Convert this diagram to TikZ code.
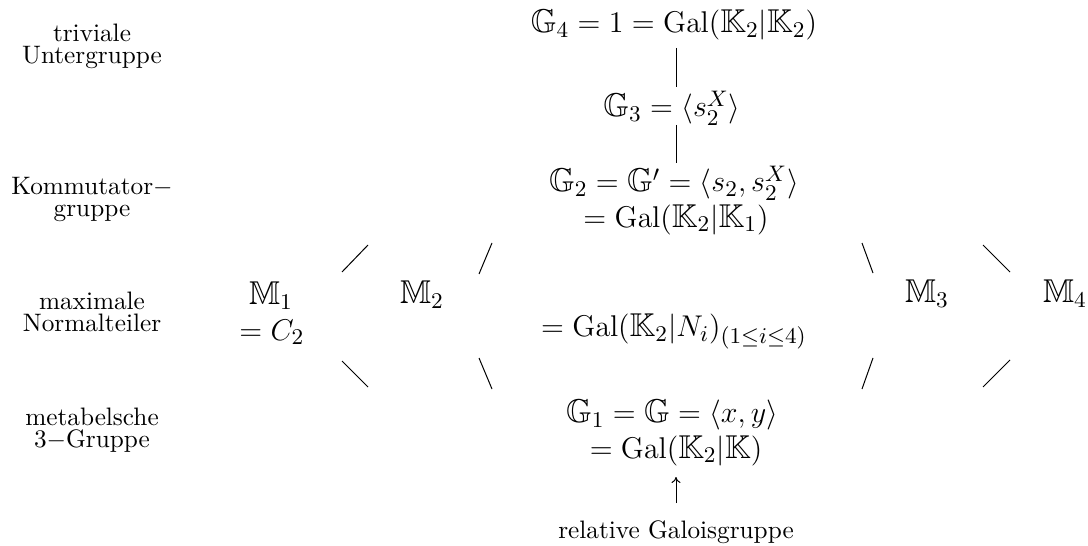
\documentclass[tikz,border=0pt]{standalone}
\usepackage{amssymb}
\usetikzlibrary{arrows.meta}
\begin{document}
\begin{tikzpicture}[x=0.4pt,y=-0.4pt,
  lab/.style={align=center,inner sep=0pt,font=\fontsize{10.1}{8.8}\selectfont},
  mth/.style={anchor=base,inner sep=0pt,font=\fontsize{13.2}{16}\selectfont},
  conn/.style={line width=0.4pt}]
\useasboundingbox (0,0) rectangle (1088,546);
% side labels
\node[lab] (l1) at (92,46.5) {triviale\\Untergruppe};
\node[lab] (l2) at (92,199.5) {Kommutator$-$\\gruppe};
\node[lab] (l3) at (92,311.5) {maximale\\Normalteiler};
\node[lab] (l4) at (92,430) {metabelsche\\3$-$Gruppe};
% central column
\node[mth] (g4) at (674,33) {$\mathbb{G}_4 = 1 = \mathrm{Gal}(\mathbb{K}_2|\mathbb{K}_2)$};
\node[mth] (g3) at (672,117) {$\mathbb{G}_3 = \langle s_2^X\rangle$};
\node[mth] (g2) at (674,192) {$\mathbb{G}_2 = \mathbb{G}' = \langle s_2, s_2^X\rangle$};
\node[mth] (g2b) at (676,227) {$= \mathrm{Gal}(\mathbb{K}_2|\mathbb{K}_1)$};
\node[mth] (gn) at (674,337) {$= \mathrm{Gal}(\mathbb{K}_2|N_i)_{(1\le i\le 4)}$};
\node[mth] (g1) at (672,423) {$\mathbb{G}_1 = \mathbb{G} = \langle x, y\rangle$};
\node[mth] (g1b) at (676,458) {$= \mathrm{Gal}(\mathbb{K}_2|\mathbb{K})$};
\node[lab,anchor=base] (rel) at (676,538) {relative Galoisgruppe};
% maximal subgroups
\node[mth] (m1) at (271,305) {$\mathbb{M}_1$};
\node[mth] (c2) at (272,340) {$= C_2$};
\node[mth] (m2) at (422,304) {$\mathbb{M}_2$};
\node[mth] (m3) at (927,303) {$\mathbb{M}_3$};
\node[mth] (m4) at (1065,303) {$\mathbb{M}_4$};
% connector end points
\coordinate (v1a) at (676,48);  \coordinate (v1b) at (676,87);
\coordinate (v2a) at (676,125); \coordinate (v2b) at (676,163);
\coordinate (a1) at (342,272); \coordinate (b1) at (368,245);
\coordinate (a2) at (479,274); \coordinate (b2) at (492,243);
\coordinate (a3) at (873,273); \coordinate (b3) at (862,243);
\coordinate (a4) at (1010,272); \coordinate (b4) at (983,245);
\coordinate (c1) at (342,361); \coordinate (d1) at (368,387);
\coordinate (c2p) at (479,358); \coordinate (d2) at (492,389);
\coordinate (c3) at (873,358); \coordinate (d3) at (862,389);
\coordinate (c4) at (1010,360); \coordinate (d4) at (983,387);
\coordinate (ar1) at (676,503); \coordinate (ar2) at (676,477);
% connectors
\draw[conn] (v1a) -- (v1b);
\draw[conn] (v2a) -- (v2b);
\draw[conn] (a1) -- (b1);
\draw[conn] (a2) -- (b2);
\draw[conn] (a3) -- (b3);
\draw[conn] (a4) -- (b4);
\draw[conn] (c1) -- (d1);
\draw[conn] (c2p) -- (d2);
\draw[conn] (c3) -- (d3);
\draw[conn] (c4) -- (d4);
\draw[conn,-{Computer Modern Rightarrow[width=3.6pt,length=2.4pt]}] (ar1) -- (ar2);
\end{tikzpicture}
\end{document}
